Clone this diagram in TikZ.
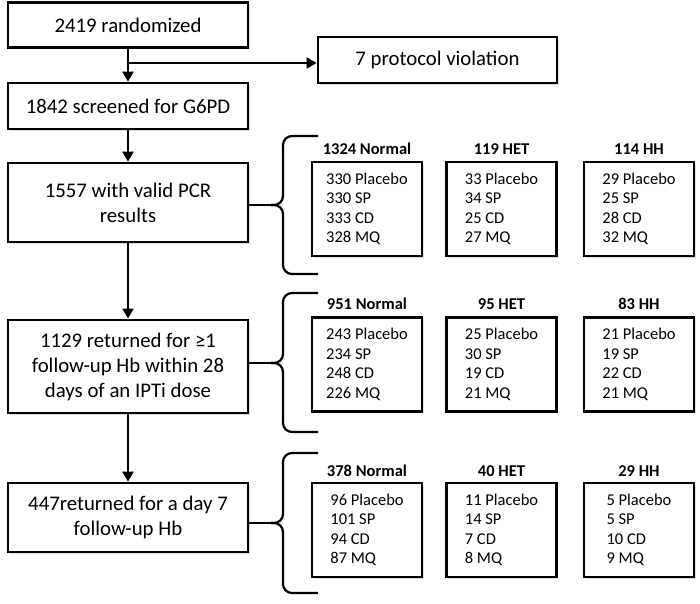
\documentclass[tikz,border=0pt]{standalone}
\usepackage{fontspec}
\setmainfont{Carlito}
\usetikzlibrary{arrows.meta, shadows}

\begin{document}
\begin{tikzpicture}[
    x=1pt, y=-1pt,
    stage/.style={draw, line width=2.8pt, fill=white, minimum width=240pt, align=center, inner sep=2pt,
        font=\fontsize{20.8}{25}\selectfont, drop shadow={shadow xshift=1.5pt, shadow yshift=-1.5pt, opacity=0.25}},
    group/.style={draw, line width=2.8pt, fill=white, minimum width=110pt, minimum height=94pt, align=left,
        font=\fontsize{16.5}{19.5}\selectfont, drop shadow={shadow xshift=1.5pt, shadow yshift=-1.5pt, opacity=0.25}},
    title/.style={font=\fontsize{16.5}{19.5}\selectfont\bfseries},
    arrow/.style={-{Triangle[width=11pt,length=10pt]}, line width=2.2pt},
    brace/.style={line width=2.2pt, rounded corners=9pt}
]
    \useasboundingbox (0,0) rectangle (700,603);

    % main stages
    \node[stage, minimum height=45pt] (rand) at (128,25) {2419 randomized};
    \node[stage, minimum width=239pt, minimum height=46pt] (viol) at (437.5,60) {7 protocol violation};
    \node[stage, minimum height=46pt] (screen) at (128,106) {1842 screened for G6PD};
    \node[stage, minimum height=79pt] (pcr) at (128,202.5) {1557 with valid PCR\\results};
    \node[stage, minimum height=93pt] (hbany) at (128,366.5) {1129 returned for ≥1\\follow-up Hb within 28\\days of an IPTi dose};
    \node[stage, minimum height=69pt] (hbday) at (128,517.5) {447returned for a day 7\\follow-up Hb};

    \coordinate (split) at (128,63);
    \draw[arrow] (rand) -- (screen);
    \draw[arrow] (split) -- (split -| viol.west);
    \draw[arrow] (screen) -- (pcr);
    \draw[arrow] (pcr) -- (hbany);
    \draw[arrow] (hbany) -- (hbday);

    % braces
    \coordinate (tip1) at (271,205);
    \coordinate (tip2) at (271,363);
    \coordinate (tip3) at (271,523);
    \draw[brace] (318,136) -- (283,136) -- (283,205) -- (tip1);
    \draw[brace] (318,274) -- (283,274) -- (283,205) -- (tip1);
    \draw[brace] (318,293) -- (283,293) -- (283,363) -- (tip2);
    \draw[brace] (318,432) -- (283,432) -- (283,363) -- (tip2);
    \draw[brace] (318,453) -- (283,453) -- (283,523) -- (tip3);
    \draw[brace] (318,593) -- (283,593) -- (283,523) -- (tip3);
    \draw[line width=2.2pt] (pcr.east |- tip1) -- (tip1);
    \draw[line width=2.2pt] (hbany.east |- tip2) -- (tip2);
    \draw[line width=2.2pt] (hbday.east |- tip3) -- (tip3);

    % genotype groups, PCR
    \node[title] (nt1) at (367,149) {1324 Normal};
    \node[title] (het1) at (501.5,149) {119 HET};
    \node[title] (hh1) at (639,149) {114 HH};
    \node[group] (ng1) at (367,209) {330 Placebo\\330 SP\\333 CD\\328 MQ};
    \node[group] (hg1) at (501.5,209) {33 Placebo\\34 SP\\25 CD\\27 MQ};
    \node[group] (hhg1) at (639,209) {29 Placebo\\25 SP\\28 CD\\32 MQ};

    % genotype groups, any follow-up Hb
    \node[title] (nt2) at (367,304) {951 Normal};
    \node[title] (het2) at (501.5,304) {95 HET};
    \node[title] (hh2) at (639,304) {83 HH};
    \node[group] (ng2) at (367,364.5) {243 Placebo\\234 SP\\248 CD\\226 MQ};
    \node[group] (hg2) at (501.5,364.5) {25 Placebo\\30 SP\\19 CD\\21 MQ};
    \node[group] (hhg2) at (639,364.5) {21 Placebo\\19 SP\\22 CD\\21 MQ};

    % genotype groups, day 7 Hb
    \node[title] (nt3) at (367,471) {378 Normal};
    \node[title] (het3) at (501.5,471) {40 HET};
    \node[title] (hh3) at (639,471) {29 HH};
    \node[group] (ng3) at (367,530) {96 Placebo\\101 SP\\94 CD\\87 MQ};
    \node[group] (hg3) at (501.5,530) {11 Placebo\\14 SP\\7 CD\\8 MQ};
    \node[group] (hhg3) at (639,530) {5 Placebo\\5 SP\\10 CD\\9 MQ};
\end{tikzpicture}
\end{document}
